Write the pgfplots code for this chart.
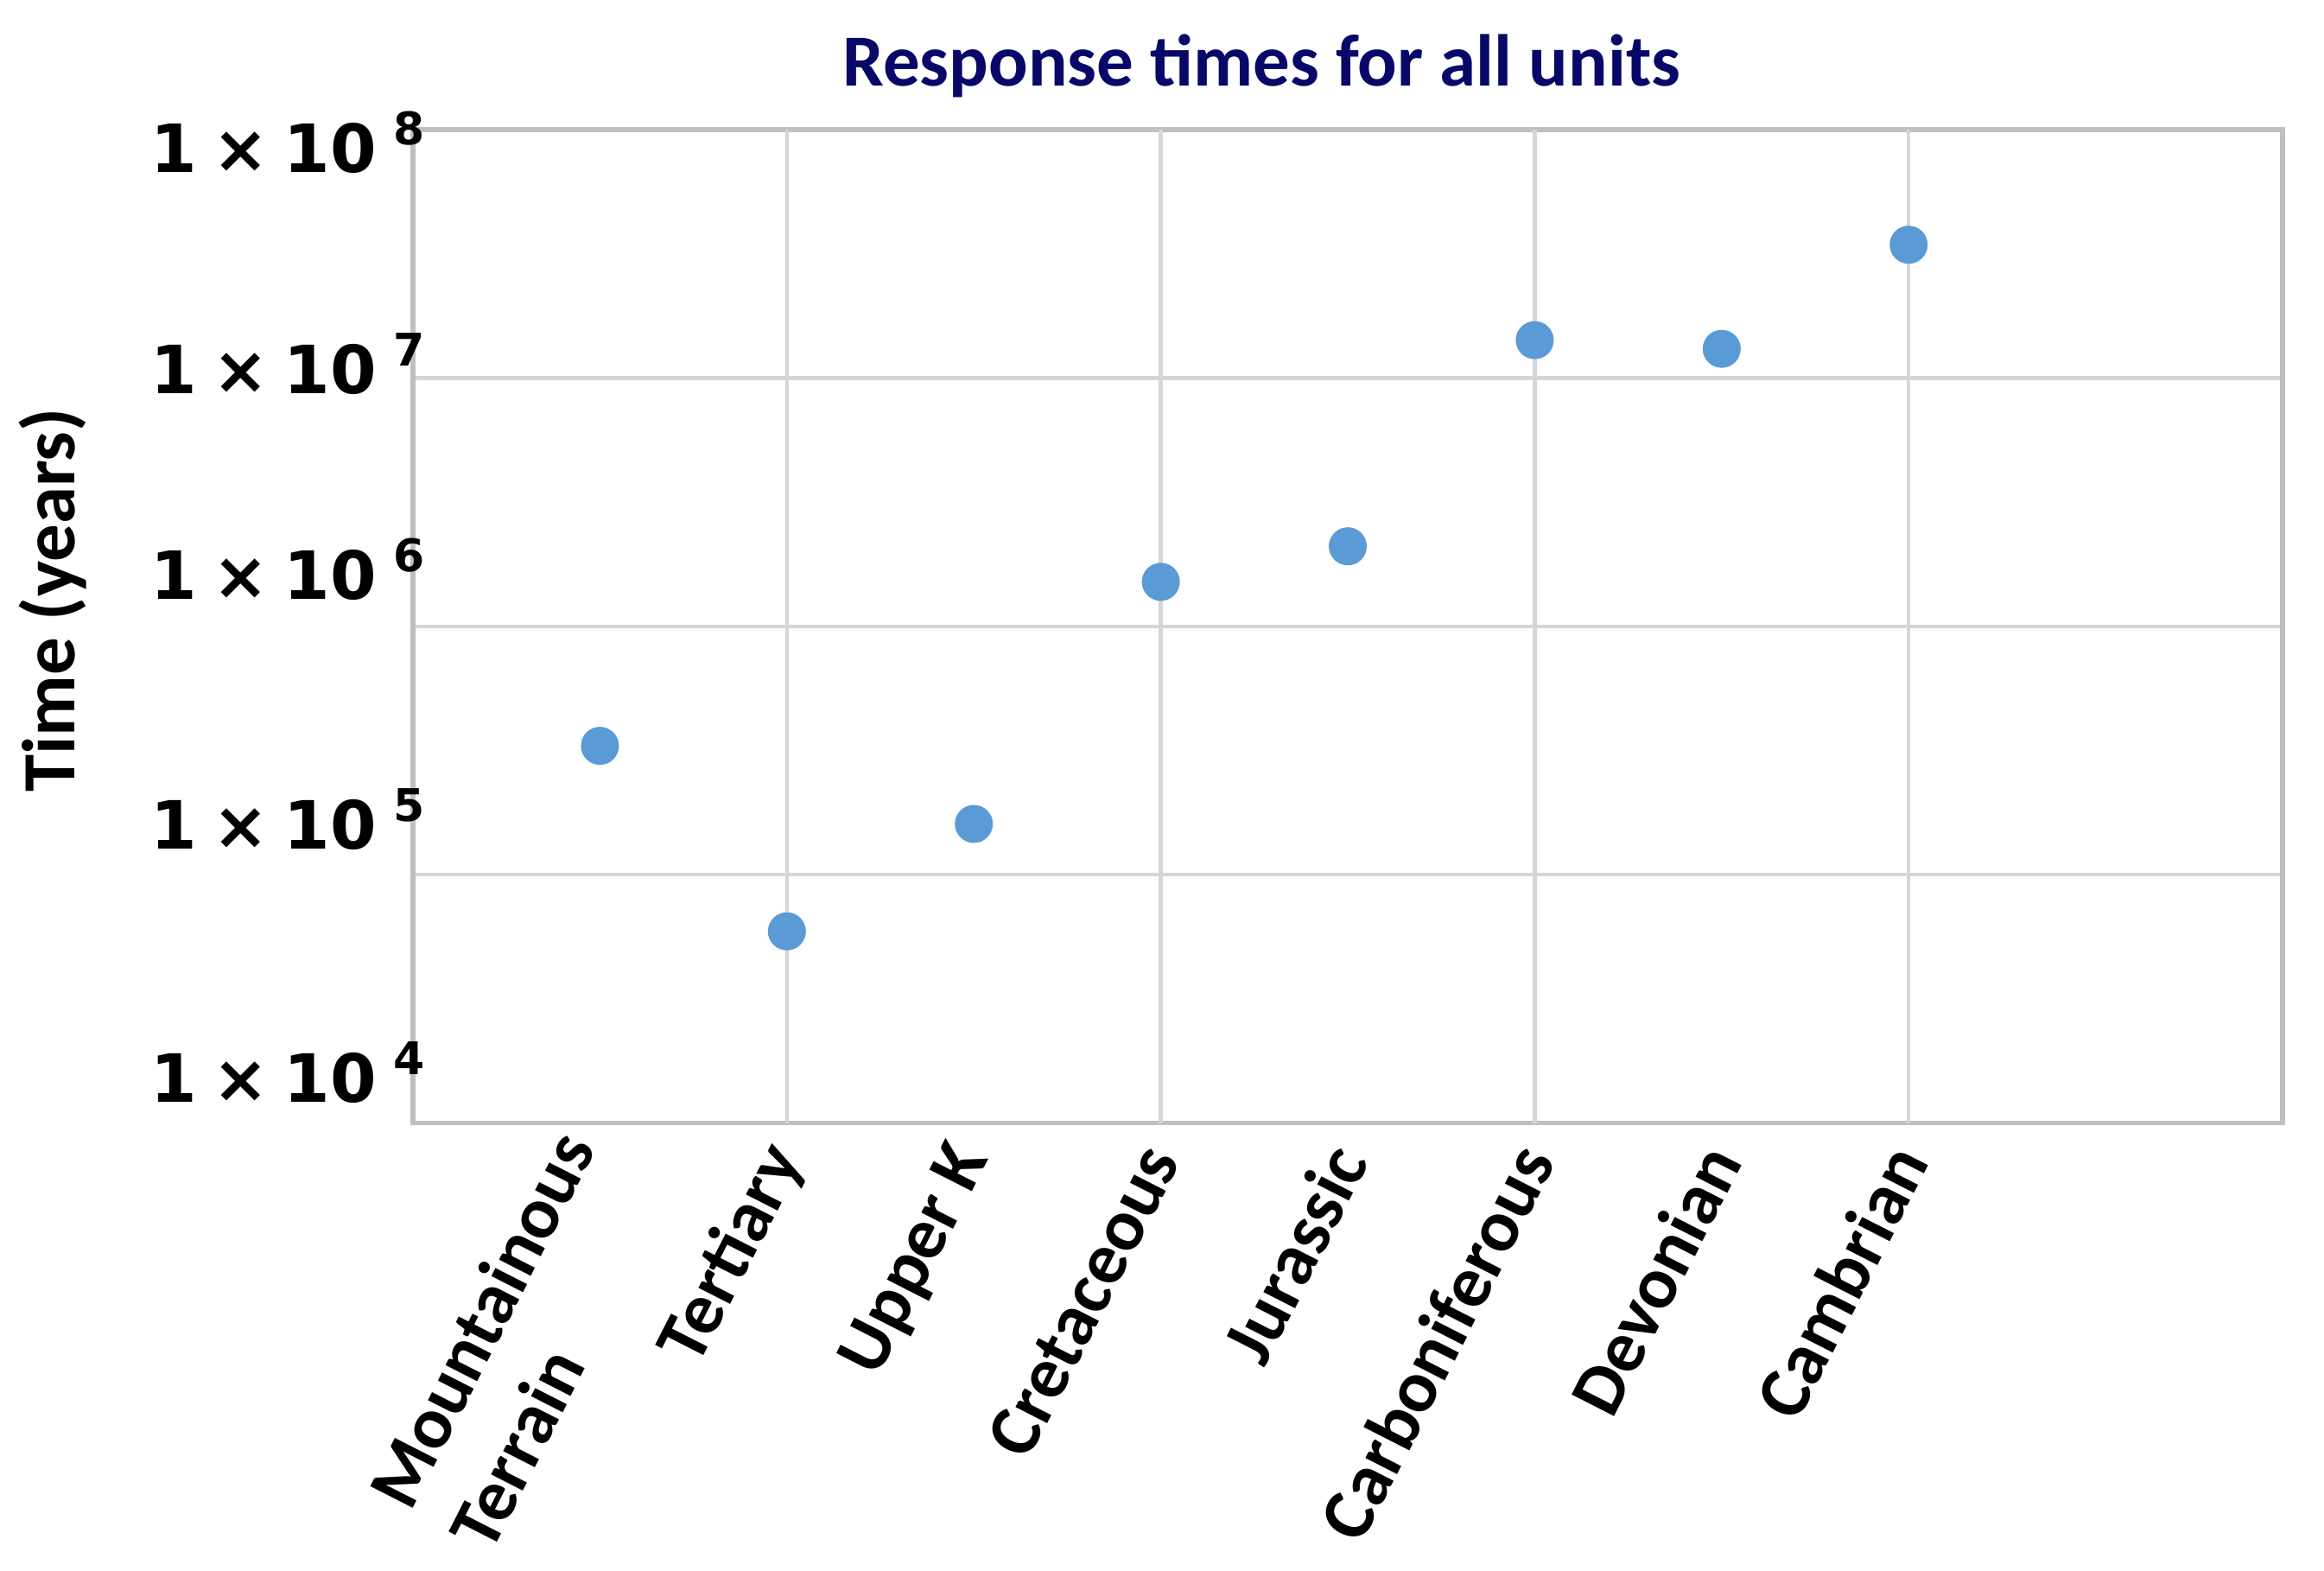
\documentclass[border=0pt]{standalone}
\usepackage{fontspec}
\setmainfont{Carlito}
\newfontfamily\tickfont{DejaVu Sans}
\usepackage{pgfplots}
\pgfplotsset{compat=1.18}
\usetikzlibrary{calc}
\definecolor{dotblue}{HTML}{5B9BD5}
\definecolor{gridgray}{HTML}{D6D6D6}
\definecolor{framegray}{HTML}{BFBFBF}
\definecolor{titlenavy}{RGB}{8,8,104}
\newcommand{\yt}[2]{\raisebox{#1}{\tickfont\bfseries\fontsize{7.7}{8.2}\selectfont 1\kern1.8pt×\kern1.8pt10\kern2pt\raisebox{3.2pt}{\fontsize{5.2}{5.5}\selectfont #2}}}
\begin{document}
\begin{tikzpicture}
\begin{axis}[
  scale only axis,
  width=216.4pt, height=114.95pt,
  xmin=0, xmax=10,
  ymode=log, ymin=1e4, ymax=1e8,
  axis line style={framegray, line width=0.55pt},
  tick style={draw=none},
  minor tick num=0,
  xtick={1,2,3,4,5,6,7,8},
  xticklabels={
    {\raisebox{4pt}[\height][0pt]{\begin{tabular}[t]{@{}l@{}}Mountainous\\Terrain\end{tabular}}},
    Tertiary, Upper K, Cretaceous, Jurassic, Carboniferous, Devonian, Cambrian},
  xticklabel style={rotate=63, anchor=east, inner sep=0pt,
    font=\fontsize{8.5}{10.4}\selectfont\bfseries},
  xticklabel shift=3pt,
  extra x ticks={2,4,6,8},
  extra x tick labels={},
  extra x tick style={grid=major},
  ytick={1e4,1e5,1e6,1e7,1e8},
  yticklabels={\yt{2.4pt}{4},\yt{3.0pt}{5},\yt{3.1pt}{6},\yt{-1.8pt}{7},\yt{-4.9pt}{8}},
  yticklabel style={anchor=base east, inner sep=0pt, xshift=1.6pt},
  ymajorgrids=true,
  major grid style={gridgray, line width=0.45pt},
  ylabel={Time (years)},
  ylabel style={at={(axis description cs:-0.1807,0.5263)}, anchor=base, inner sep=0pt,
    font=\fontsize{8.7}{10}\selectfont\bfseries},
]
\addplot[only marks, mark=*, mark size=2pt, color=dotblue] coordinates {
  (1, 3.30e5)
  (2, 5.91e4)
  (3, 1.60e5)
  (4, 1.51e6)
  (5, 2.10e6)
  (6, 1.42e7)
  (7, 1.31e7)
  (8, 3.44e7)
};
\end{axis}
\node[anchor=base, inner sep=0pt, text=titlenavy, font=\fontsize{8.5}{10}\selectfont\bfseries]
  at ($(current axis.north west)!0.454!(current axis.north east)+(0,5.1pt)$) {Response times for all units};
\path ($(current axis.south west)+(-47.8pt,-51.8pt)$) rectangle ($(current axis.north east)+(4.8pt,15pt)$);
\end{tikzpicture}
\end{document}
